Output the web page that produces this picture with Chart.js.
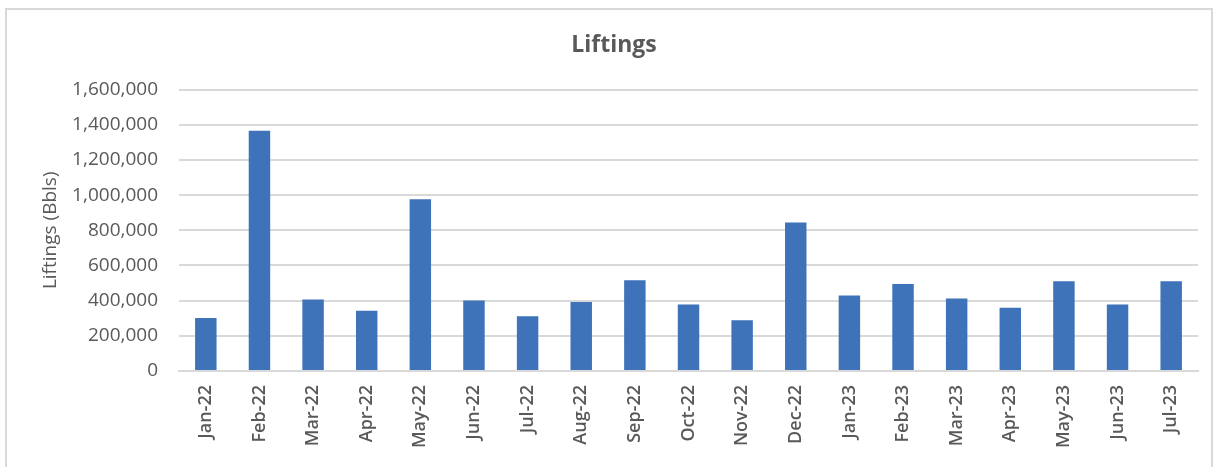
<!DOCTYPE html>
<html lang="en">
<head>
    <meta charset="UTF-8">
    <title>Liftings</title>
    <script src="https://cdn.jsdelivr.net/npm/chart.js"></script>
    <style>
        body {
            margin: 0;
            background-color: #fff;
            font-family: 'Open Sans', sans-serif;
        }

        #frame {
            position: absolute;
            left: 5px;
            top: 8px;
            width: 1208px;
            height: 470px;
            border: 2px solid #d9d9d9;
            box-sizing: border-box;
        }

        #chart-container {
            position: absolute;
            left: 0;
            top: 0;
            width: 1218px;
            height: 467px;
        }
    </style>
</head>
<body>
<div id="frame"></div>
<div id="chart-container">
    <canvas id="liftingsChart" width="1218" height="467"></canvas>
</div>

<script>
    // Monthly liftings, barrels
    var months = ["Jan-22", "Feb-22", "Mar-22", "Apr-22", "May-22", "Jun-22", "Jul-22",
        "Aug-22", "Sep-22", "Oct-22", "Nov-22", "Dec-22", "Jan-23", "Feb-23",
        "Mar-23", "Apr-23", "May-23", "Jun-23", "Jul-23"];
    var liftings = [301000, 1366000, 407000, 342000, 976000, 401000, 312000,
        393000, 516000, 378000, 289000, 844000, 429000, 494000,
        412000, 359000, 511000, 378000, 511000];
    var yTicks = [0, 200000, 400000, 600000, 800000, 1000000, 1200000, 1400000, 1600000];

    var grey = "#595959";
    var gridGrey = "#d9d9d9";
    var fontFamily = "'Open Sans', sans-serif";

    var ctx = document.getElementById("liftingsChart").getContext("2d");
    new Chart(ctx, {
        type: "bar",
        data: {
            labels: months,
            datasets: [{
                label: "Liftings",
                data: liftings,
                backgroundColor: "#3e72b9",
                borderWidth: 0,
                barPercentage: 0.4,
                categoryPercentage: 1.0
            }]
        },
        options: {
            responsive: false,
            animation: false,
            layout: {
                padding: {top: 32, right: 0, bottom: 0, left: 10}
            },
            plugins: {
                legend: {display: false},
                tooltip: {enabled: false},
                title: {
                    display: true,
                    text: "Liftings",
                    color: grey,
                    font: {family: fontFamily, size: 23, weight: "bold"},
                    padding: {top: 0, bottom: 30}
                }
            },
            scales: {
                x: {
                    grid: {display: false, drawTicks: false},
                    border: {display: true, color: gridGrey, width: 2},
                    ticks: {
                        color: grey,
                        font: {family: fontFamily, size: 18, weight: "600"},
                        minRotation: 90,
                        maxRotation: 90,
                        padding: 14,
                        autoSkip: false
                    },
                    afterFit: function (scale) {
                        scale.height = 96;
                    }
                },
                y: {
                    min: 0,
                    max: 1600000,
                    afterBuildTicks: function (scale) {
                        scale.ticks = yTicks.map(function (v) { return {value: v}; });
                    },
                    grid: {color: gridGrey, lineWidth: 2, drawTicks: false},
                    border: {display: false},
                    ticks: {
                        color: grey,
                        font: {family: fontFamily, size: 19},
                        padding: 21,
                        callback: function (v) { return v.toLocaleString("en-US"); }
                    },
                    title: {
                        display: true,
                        text: "Liftings (Bbls)",
                        color: grey,
                        font: {family: fontFamily, size: 19},
                        padding: {top: 29, bottom: 0}
                    },
                    afterFit: function (scale) {
                        scale.width = 169;
                    }
                },
                // empty right-hand margin axis
                yRight: {
                    position: "right",
                    display: true,
                    grid: {display: false, drawTicks: false},
                    border: {display: false},
                    ticks: {display: false},
                    afterFit: function (scale) {
                        scale.width = 20;
                    }
                }
            }
        }
    });
</script>
</body>
</html>
